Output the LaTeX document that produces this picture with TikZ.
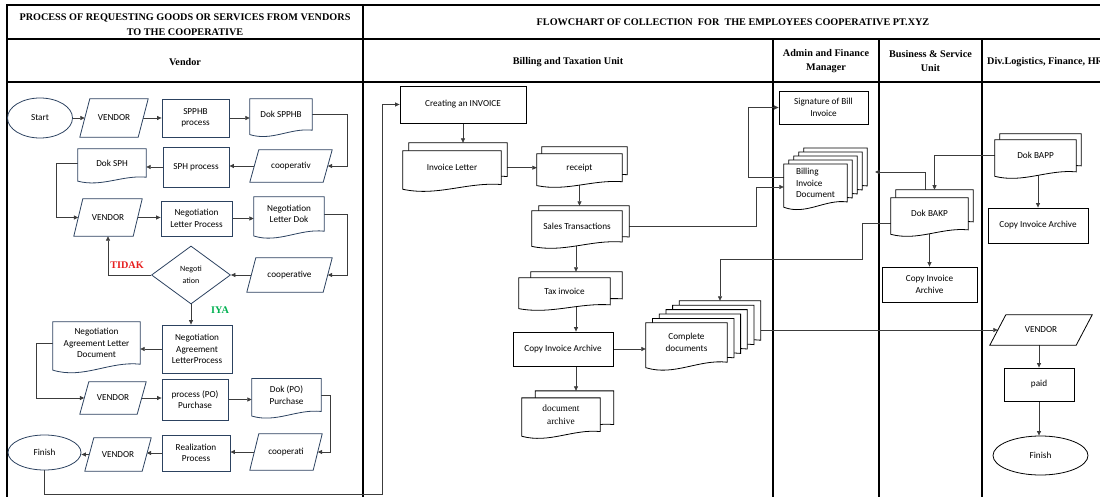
\documentclass[tikz,border=0pt]{standalone}
\usepackage{fontspec}
\setmainfont{Carlito}
\newfontfamily\hdfont{Liberation Serif}
\usetikzlibrary{shapes.geometric,arrows.meta,calc}
\pgfdeclarelayer{gridl}
\pgfdeclarelayer{conn}
\pgfdeclarelayer{shp}
\pgfsetlayers{gridl,conn,shp,main}
\definecolor{navy}{RGB}{44,66,96}
\definecolor{conc}{RGB}{60,60,60}
\definecolor{tred}{RGB}{230,30,30}
\definecolor{tgreen}{RGB}{0,176,80}
% document shape drawn from a node's box: color, name, dx, dy
\newcommand{\docshape}[4]{%
  \path[draw=#1, fill=white, line width=0.8pt] let \p1=(#2.north west), \p2=(#2.south east) in
  ({\x1+#3},{\y1+#4}) -- ({\x2+#3},{\y1+#4}) -- ({\x2+#3},{\y2+#4})
  .. controls ({\x2-0.35*(\x2-\x1)+#3},{\y2+0.08*(\y1-\y2)+#4}) and ({\x1+0.35*(\x2-\x1)+#3},{\y2-0.36*(\y1-\y2)+#4}) ..
  ({\x1+#3},{\y2-0.14*(\y1-\y2)+#4}) -- cycle;}
% parallelogram drawn from a node's box: color, name, slant
\newcommand{\parashape}[3]{%
  \path[draw=#1, fill=white, line width=0.8pt] let \p1=(#2.north west), \p2=(#2.south east) in
  ({\x1+#3/2},\y1) -- ({\x2+#3/2},\y1) -- ({\x2-#3/2},\y2) -- ({\x1-#3/2},\y2) -- cycle;}
\tikzset{
  every node/.style={font=\fontsize{9.2}{11.5}\selectfont, align=center, inner sep=0pt},
  lrect/.style={draw=navy, line width=0.8pt},
  rect/.style={draw=black, line width=0.8pt},
  lell/.style={ellipse, draw=navy, line width=0.8pt},
  ell/.style={ellipse, draw=black, line width=0.8pt},
  ldia/.style={diamond, draw=navy, line width=0.8pt, font=\fontsize{8}{12}\selectfont},
  pnode/.style={},
  dnode/.style={},
  hd/.style={font=\hdfont\bfseries\fontsize{10.2}{14.5}\selectfont},
  conn/.style={draw=conc, line width=0.7pt, -{Triangle[length=4.5pt,width=4pt]}},
  gridline/.style={draw=black, line width=1.1pt},
}
\begin{document}
\begin{tikzpicture}[x=1pt,y=-1pt]
\useasboundingbox (0,0) rectangle (1100,497);

% ---------- headers ----------
\node[hd] (h1) at (185,24.5) {PROCESS OF REQUESTING GOODS OR SERVICES FROM VENDORS\\TO THE COOPERATIVE};
\node[hd] (h2) at (185,62) {Vendor};
\node[hd] (h3) at (733,22) {FLOWCHART OF COLLECTION~~FOR~~THE EMPLOYEES COOPERATIVE PT.XYZ};
\node[hd] (h4) at (568,62) {Billing and Taxation Unit};
\node[hd] (h5) at (826,61) {Admin and Finance\\Manager};
\node[hd] (h6) at (930.5,61) {Business \& Service\\Unit};
\node[hd, anchor=west] (h7) at (987,62) {Div.Logistics, Finance, HR};

% ---------- left panel ----------
\node[lell, minimum width=65, minimum height=40] (start) at (40,118) {Start};
\node[pnode, minimum width=58, minimum height=38] (v1) at (114,118) {VENDOR};
\node[lrect, minimum width=67, minimum height=38] (spphb) at (195.5,118) {SPPHB\\process};
\node[dnode, minimum width=62, minimum height=31] (dspphb) at (281,114.5) {Dok SPPHB};
\node[pnode, minimum width=73, minimum height=32] (coop1) at (291,166) {cooperativ};
\node[lrect, minimum width=66, minimum height=40] (sphp) at (196,167) {SPH process};
\node[dnode, minimum width=68, minimum height=28] (dsph) at (112,163) {Dok SPH};
\node[pnode, minimum width=59, minimum height=37] (v2) at (108,217.5) {VENDOR};
\node[lrect, minimum width=71, minimum height=35] (nlp) at (196.5,218.5) {Negotiation\\Letter Process};
\node[dnode, minimum width=70, minimum height=34] (nld) at (289,214) {Negotiation\\Letter Dok};
\node[pnode, minimum width=76, minimum height=34] (coop2) at (289.5,275) {cooperative};
\node[ldia, minimum width=79, minimum height=58] (neg) at (191,275) {Negoti\\ation};
\node[hd, text=tred] (tidak) at (127,265) {TIDAK};
\node[hd, text=tgreen] (iya) at (220,310) {IYA};
\node[lrect, minimum width=70, minimum height=48] (nalp) at (197,349) {Negotiation\\Agreement\\LetterProcess};
\node[dnode, minimum width=87, minimum height=42] (nald) at (96.5,343) {Negotiation\\Agreement Letter\\Document};
\node[pnode, minimum width=57, minimum height=32] (v3) at (113,398) {VENDOR};
\node[lrect, minimum width=66, minimum height=41] (pop) at (195,399.5) {process (PO)\\Purchase};
\node[dnode, minimum width=69, minimum height=32.5] (dpo) at (286.5,395) {Dok (PO)\\Purchase};
\node[pnode, minimum width=63, minimum height=36] (coop3) at (286,452) {cooperati};
\node[lrect, minimum width=68, minimum height=36] (realp) at (196,453) {Realization\\Process};
\node[pnode, minimum width=57, minimum height=33] (v4) at (118,454.5) {VENDOR};
\node[lell, minimum width=73, minimum height=35] (fin1) at (44.5,452.5) {Finish};

% ---------- billing and taxation ----------
\node[rect, minimum width=126, minimum height=37] (create) at (463,104.5) {Creating an INVOICE};
\node[dnode, minimum width=98, minimum height=33.3] (invl) at (452,167.7) {Invoice Letter};
\node[dnode, minimum width=85, minimum height=27.5] (rcpt) at (579.5,167.75) {receipt};
\node[dnode, minimum width=90, minimum height=30.8] (sales) at (577,226.4) {Sales Transactions};
\node[dnode, minimum width=91, minimum height=26.7] (tax) at (564.5,291.3) {Tax invoice};
\node[rect, minimum width=100, minimum height=34] (cia1) at (563,349) {Copy Invoice Archive};
\node[dnode, minimum width=81, minimum height=39] (compl) at (686.5,342.5) {Complete\\documents};
\node[dnode, minimum width=78, minimum height=33.3, font=\hdfont\fontsize{9.4}{13}\selectfont] (darch) at (561,414.7) {document\\archive};

% ---------- admin / business / div ----------
\node[rect, minimum width=89, minimum height=33] (sig) at (823.5,107.5) {Signature of Bill\\Invoice};
\node[dnode, minimum width=63, minimum height=37.5, align=left] (bid) at (815.5,183) {Billing\\Invoice\\Document};
\node[dnode, minimum width=77, minimum height=31.7] (bakp) at (929.5,213.8) {Dok BAKP};
\node[rect, minimum width=95, minimum height=35] (cia2) at (929.5,284.5) {Copy Invoice\\Archive};
\node[dnode, minimum width=81, minimum height=31.7] (bapp) at (1035.5,155.8) {Dok BAPP};
\node[rect, minimum width=100, minimum height=35] (cia3) at (1038,225.5) {Copy Invoice Archive};
\node[pnode, minimum width=86, minimum height=30] (vd) at (1041,330) {VENDOR};
\node[rect, minimum width=70, minimum height=33] (paid) at (1039,384.5) {paid};
\node[ell, minimum width=95, minimum height=39] (fin2) at (1040.5,455.5) {Finish};

% back-layer reference points
\coordinate (invlB) at ($(invl.north)+(6,-8)$);
\coordinate (salesBn) at ($(sales.north)+(7,-5)$);
\coordinate (salesBe) at ($(sales.east)+(7,-5)$);
\coordinate (taxBn) at ($(tax.north)+(12,-6)$);
\coordinate (darchBn) at ($(darch.north)+(13.5,-7)$);
\coordinate (bakpBn) at ($(bakp.north)+(5,-8)$);
\coordinate (complBn) at ($(compl.north)+(33.5,-22)$);
\coordinate (complBe) at ($(compl.east)+(33.5,-22)$);
\coordinate (colx) at (576,0);
\coordinate (lp) at (382,494);
\coordinate (j1) at (862,259);
\coordinate (j2) at (756,187);
\coordinate (j3) at (748,177);
\coordinate (j4) at (925,172);
\coordinate (bidtip) at (875,172);

% ---------- shapes ----------
\begin{pgfonlayer}{shp}
  \parashape{navy}{v1}{10pt}
  \parashape{navy}{coop1}{9pt}
  \parashape{navy}{v2}{9pt}
  \parashape{navy}{coop2}{9pt}
  \parashape{navy}{v3}{9pt}
  \parashape{navy}{coop3}{9pt}
  \parashape{navy}{v4}{9pt}
  \docshape{navy}{dspphb}{0pt}{0pt}
  \docshape{navy}{dsph}{0pt}{0pt}
  \docshape{navy}{nld}{0pt}{0pt}
  \docshape{navy}{nald}{0pt}{0pt}
  \docshape{navy}{dpo}{0pt}{0pt}
  \docshape{black}{invl}{6pt}{8pt}\docshape{black}{invl}{0pt}{0pt}
  \docshape{black}{rcpt}{5pt}{7pt}\docshape{black}{rcpt}{0pt}{0pt}
  \docshape{black}{sales}{7pt}{5pt}\docshape{black}{sales}{0pt}{0pt}
  \docshape{black}{tax}{12pt}{6pt}\docshape{black}{tax}{0pt}{0pt}
  \docshape{black}{darch}{13.5pt}{7pt}\docshape{black}{darch}{0pt}{0pt}
  \docshape{black}{bakp}{5pt}{8pt}\docshape{black}{bakp}{0pt}{0pt}
  \docshape{black}{bapp}{5pt}{6pt}\docshape{black}{bapp}{0pt}{0pt}
  \foreach \k in {4,3,2,1} {\docshape{black}{bid}{\k*5pt}{\k*4pt}}
  \docshape{black}{bid}{0pt}{0pt}
  \foreach \k in {5,4,3,2,1} {\docshape{black}{compl}{\k*6.7pt}{\k*4.4pt}}
  \docshape{black}{compl}{0pt}{0pt}
  \parashape{black}{vd}{16pt}
\end{pgfonlayer}

% ---------- grid ----------
\begin{pgfonlayer}{gridl}
  \draw[gridline] (7,497) -- (7,5) -- (1100,5);
  \draw[gridline] (7,39) -- (1100,39);
  \draw[gridline] (7,82) -- (1100,82);
  \draw[gridline] (363,5) -- (363,497);
  \draw[gridline] (773,39) -- (773,497);
  \draw[gridline] (879,39) -- (879,497);
  \draw[gridline] (982,39) -- (982,497);
\end{pgfonlayer}

% ---------- connectors ----------
\begin{pgfonlayer}{conn}
  \draw[conn] (start.east) -- (v1.west);
  \draw[conn] (v1.east) -- (spphb.west);
  \draw[conn] (spphb.east) -- (spphb.east -| dspphb.west);
  \draw[conn] (dspphb.east) -- ++(35,0) |- (coop1.east);
  \draw[conn] (coop1.west) -- (coop1.west -| sphp.east);
  \draw[conn] (sphp.west) -- (sphp.west -| dsph.east);
  \draw[conn] (dsph.west) -- ++(-21,0) |- (v2.west);
  \draw[conn] (v2.east) -- (v2.east -| nlp.west);
  \draw[conn] (nlp.east) -- (nlp.east -| nld.west);
  \draw[conn] (nld.east) -- ++(23,0) |- (coop2.east);
  \draw[conn] (coop2.west) -- (neg.east);
  \draw[conn] (neg.west) -| (v2.south);
  \draw[conn] (neg.south) -- (neg.south |- nalp.north);
  \draw[conn] (nalp.west) -- (nalp.west -| nald.east);
  \draw[conn] (nald.west) -- ++(-16,0) |- (v3.west);
  \draw[conn] (v3.east) -- (v3.east -| pop.west);
  \draw[conn] (pop.east) -- (pop.east -| dpo.west);
  \draw[conn] (dpo.east) -- ++(9,0) |- (coop3.east);
  \draw[conn] (coop3.west) -- (coop3.west -| realp.east);
  \draw[conn] (realp.west) -- (realp.west -| v4.east);
  \draw[conn] (v4.west) -- (v4.west -| fin1.east);
  \draw[conn] (fin1.south) |- (lp) |- (create.west);
  % billing
  \draw[conn] (create.south) -- (create.south |- invlB);
  \draw[conn] (invl.east) -- (invl.east -| rcpt.west);
  \draw[conn] (rcpt.south) -- (rcpt.south |- salesBn);
  \draw[conn] (sales.south -| colx) -- (taxBn -| colx);
  \draw[conn] (tax.south -| colx) -- (cia1.north -| colx);
  \draw[conn] (cia1.south -| colx) -- (darchBn -| colx);
  \draw[conn] (cia1.east) -- (cia1.east -| compl.west);
  \draw[conn] (sales.east -| salesBe) -| (j2) -- (j2 -| bid.west);
  \draw[conn] (bid.west |- j3) -- (j3) |- (sig.west);
  \draw[conn] (bakpBn -| j4) |- (bidtip);
  \draw[conn] (bapp.west) -| (bakpBn);
  \draw[conn] (bakp.south) -- (cia2.north);
  \draw[conn] ($(bakp.west)!0.6!(bakp.south west)$) -| (j1) -| (complBn);
  \draw[conn] (cia3.north |- bapp.south) -- (cia3.north);
  \draw[conn] (vd.west -| complBe) -- (vd.west);
  \draw[conn] (vd.south -| paid.north) -- (paid.north);
  \draw[conn] (paid.south) -- (paid.south |- fin2.north);
\end{pgfonlayer}
\end{tikzpicture}
\end{document}
